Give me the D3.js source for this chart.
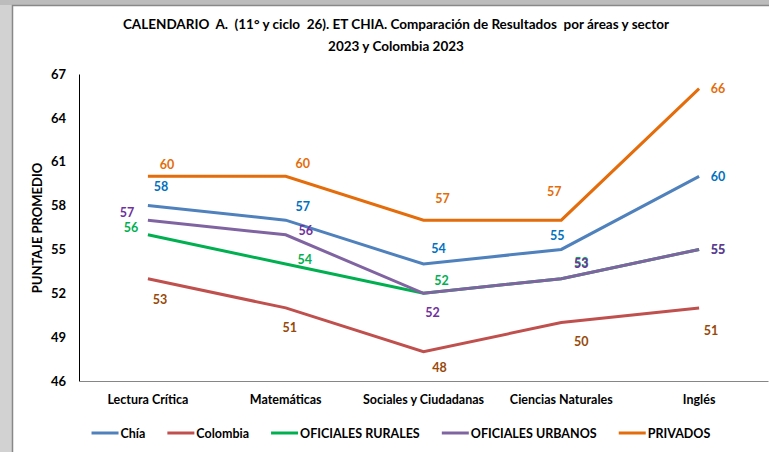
<!DOCTYPE html>
<html>
<head>
<meta charset="utf-8">
<script src="https://cdn.jsdelivr.net/npm/d3@7"></script>
<style>
  body { margin: 0; background: #fff; }
  svg { display: block; font-family: Lato, "Open Sans", sans-serif; }
</style>
</head>
<body>
<script>
// datos
const areas = ["Lectura Crítica", "Matemáticas", "Sociales y Ciudadanas", "Ciencias Naturales", "Inglés"];
const seriesNames = ["Chía", "Colombia", "OFICIALES RURALES", "OFICIALES URBANOS", "PRIVADOS"];
const chia = [58, 57, 54, 55, 60];
const colombia = [53, 51, 48, 50, 51];
const oficialesRurales = [56, 54, 52, 53, 55];
const oficialesUrbanos = [57, 56, 52, 53, 55];
const privados = [60, 60, 57, 57, 66];
const yTicks = [46, 49, 52, 55, 58, 61, 64, 67];

const lineColors = ["#4F81BD", "#C0504D", "#00B050", "#8064A2", "#E46C0A"];
const labelColors = ["#0070C0", "#984807", "#00B050", "#7030A0", "#E46C0A"];

// desplazamiento de las etiquetas (dx, dy) respecto al punto
const labelOffsets = [
  [[13, -19], [17, -14], [15, -16], [-4, -14], [19, 0]],
  [[12, 21], [4, 20], [16, 16], [20, 19], [12, 23]],
  [[-17, -7], [19, -5], [18, -13], [20, -16], [19, 0]],
  [[-21, -8], [20, -4], [9, 19], [20, -15], [19, 0]],
  [[19, -12], [17, -13], [19, -22], [-7, -29], [19, 0]]
];

const allValues = [chia, colombia, oficialesRurales, oficialesUrbanos, privados];
const series = seriesNames.map((name, i) => ({
  name,
  values: allValues[i],
  color: lineColors[i],
  labelColor: labelColors[i],
  offsets: labelOffsets[i]
}));

const width = 769;
const height = 452;

const svg = d3.select("body")
  .append("svg")
  .attr("width", width)
  .attr("height", height);

// marco gris (captura de Excel)
svg.append("rect").attr("width", width).attr("height", height).attr("fill", "#d2d2d2");
svg.append("rect").attr("x", 0).attr("y", 0).attr("width", width).attr("height", 5).attr("fill", "#bcbcbc");
svg.append("rect").attr("x", 12).attr("y", 5).attr("width", width - 12).attr("height", height - 5).attr("fill", "#fff");
svg.append("path")
  .attr("d", `M12.5,${height} V5.5 H${width}`)
  .attr("fill", "none")
  .attr("stroke", "#888")
  .attr("stroke-width", 1.5);

// título
const title = svg.append("text")
  .attr("x", 396)
  .attr("text-anchor", "middle")
  .attr("font-weight", "bold")
  .attr("font-size", "13.5px")
  .style("white-space", "pre")
  .attr("fill", "#000");
title.append("tspan").attr("x", 396).attr("y", 29)
  .text("CALENDARIO  A.  (11° y ciclo  26). ET CHIA. Comparación de Resultados  por áreas y sector");
title.append("tspan").attr("x", 396).attr("y", 51)
  .text("2023 y Colombia 2023");

// escalas
const x = d3.scaleBand().domain(areas).range([79, 768]);
const cx = (a) => x(a) + x.bandwidth() / 2;
const y = d3.scaleLinear().domain([46, 67]).range([381, 74]);

// eje Y
const yAxis = svg.append("g")
  .attr("transform", "translate(79,0)")
  .call(d3.axisLeft(y).tickValues(yTicks).tickSize(0).tickPadding(13).tickFormat(d3.format("d")));
yAxis.select(".domain").attr("stroke", "#000").attr("stroke-width", 1);
yAxis.selectAll("text")
  .attr("font-family", "Lato, sans-serif")
  .attr("font-size", "13px")
  .attr("font-weight", "bold")
  .attr("fill", "#000");

svg.append("text")
  .attr("transform", "translate(42,228) rotate(-90)")
  .attr("text-anchor", "middle")
  .attr("font-weight", "bold")
  .attr("font-size", "13px")
  .text("PUNTAJE PROMEDIO");

// eje X
const xAxis = svg.append("g")
  .attr("transform", "translate(0,381)")
  .call(d3.axisBottom(x).tickSize(0).tickPadding(14));
xAxis.select(".domain").attr("stroke", "#868686").attr("stroke-width", 1);
xAxis.selectAll("text")
  .attr("font-family", "Lato, sans-serif")
  .attr("font-size", "12.5px")
  .attr("font-weight", "bold")
  .attr("fill", "#000");

// líneas
const line = d3.line()
  .x((d, i) => cx(areas[i]))
  .y((d) => y(d));

svg.append("g")
  .selectAll("path")
  .data(series)
  .join("path")
  .attr("d", (d) => line(d.values))
  .attr("fill", "none")
  .attr("stroke", (d) => d.color)
  .attr("stroke-width", 3);

// etiquetas de datos
svg.append("g")
  .selectAll("g")
  .data(series)
  .join("g")
  .attr("fill", (d) => d.labelColor)
  .selectAll("text")
  .data((d) => d.values.map((v, i) => ({ v, i, off: d.offsets[i] })))
  .join("text")
  .attr("x", (d) => cx(areas[d.i]) + d.off[0])
  .attr("y", (d) => y(d.v) + d.off[1])
  .attr("text-anchor", "middle")
  .attr("dominant-baseline", "central")
  .attr("font-weight", "bold")
  .attr("font-size", "12.5px")
  .text((d) => d.v);

// leyenda
const legend = svg.append("g").attr("transform", "translate(0,433)");
let lx = 0;
const items = legend.selectAll("g")
  .data(series)
  .join("g");
items.append("line")
  .attr("x1", 0).attr("x2", 27)
  .attr("stroke", (d) => d.color)
  .attr("stroke-width", 3);
items.append("text")
  .attr("x", 29)
  .attr("dominant-baseline", "central")
  .attr("font-weight", "bold")
  .attr("font-size", "12.5px")
  .text((d) => d.name);
items.each(function () {
  const w = this.getBBox().width;
  d3.select(this).attr("transform", `translate(${lx},0)`);
  lx += w + 22;
});
const totalW = lx - 22;
legend.attr("transform", `translate(${401 - totalW / 2},433)`);
</script>
</body>
</html>
